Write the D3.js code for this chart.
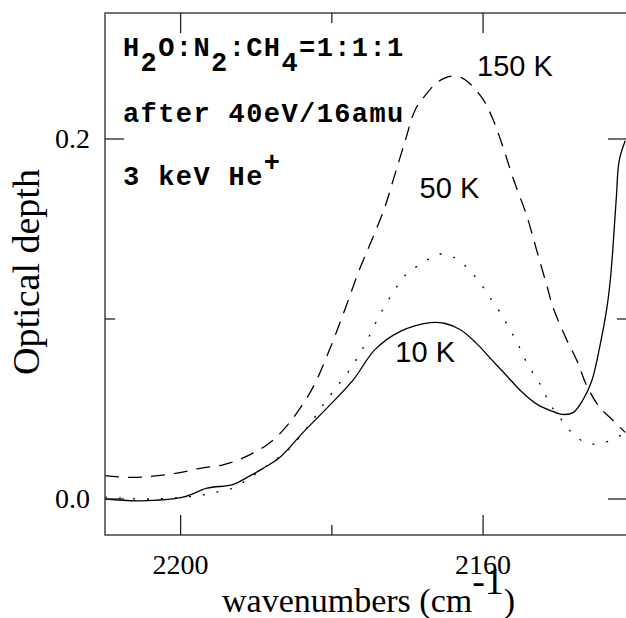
<!DOCTYPE html>
<html>
<head>
<meta charset="utf-8">
<script src="https://cdn.jsdelivr.net/npm/d3@7"></script>
<style>
  html, body { margin: 0; padding: 0; background: #fff; }
</style>
</head>
<body>
<div id="chart"></div>
<script>
const width = 626;
const height = 618;
const margin = { top: 13, right: 0, bottom: 83, left: 105 };

// wavenumber (cm-1) and optical depth
const wn10 = [2210, 2205.4, 2199.7, 2196.5, 2193.1, 2191.2, 2189.1, 2186.9, 2183.8, 2180.3, 2177.2, 2174.3, 2171.0, 2167.0, 2165.0, 2163.0, 2161.0, 2159.0, 2157.0, 2155.0, 2153.0, 2151.0, 2149.5, 2148.1, 2146.8, 2145.6, 2144.6, 2143.6, 2143.1, 2142.4, 2142.0, 2141.2];
const od10 = [0.000, -0.001, 0.001, 0.006, 0.008, 0.012, 0.017, 0.023, 0.037, 0.052, 0.066, 0.083, 0.093, 0.098, 0.0975, 0.094, 0.087, 0.078, 0.069, 0.060, 0.053, 0.049, 0.047, 0.048, 0.055, 0.066, 0.084, 0.107, 0.125, 0.166, 0.188, 0.199];

const wn50 = [2210, 2204.1, 2197.4, 2195.1, 2193.1, 2191.1, 2189.1, 2185.6, 2183.8, 2182.5, 2181.2, 2179.6, 2177.6, 2175.6, 2173.7, 2171.4, 2169.9, 2168.0, 2166.0, 2163.7, 2162.0, 2160.4, 2159.1, 2157.8, 2156.7, 2155.5, 2154.5, 2153.4, 2152.2, 2151.2, 2149.8, 2148.3, 2146.3, 2144.3, 2142.4, 2141.2];
const od50 = [0.001, 0.000, 0.002, 0.004, 0.006, 0.011, 0.017, 0.028, 0.037, 0.044, 0.052, 0.061, 0.072, 0.086, 0.102, 0.118, 0.126, 0.131, 0.136, 0.134, 0.128, 0.120, 0.112, 0.104, 0.096, 0.087, 0.078, 0.070, 0.062, 0.053, 0.045, 0.037, 0.031, 0.031, 0.034, 0.037];

const wn150 = [2210, 2206.3, 2201.0, 2197.4, 2194.4, 2192.2, 2188.6, 2186.5, 2184.6, 2182.5, 2180.3, 2178.3, 2176.3, 2174.7, 2173.0, 2171.9, 2170.3, 2169.0, 2167.7, 2166.2, 2165.0, 2164.0, 2162.8, 2161.8, 2160.0, 2158.7, 2157.4, 2156.1, 2154.2, 2152.9, 2151.4, 2150.8, 2148.9, 2147.6, 2146.3, 2144.6, 2142.9, 2141.2];
const od150 = [0.013, 0.012, 0.014, 0.017, 0.019, 0.022, 0.030, 0.038, 0.048, 0.062, 0.083, 0.105, 0.128, 0.144, 0.162, 0.177, 0.199, 0.216, 0.224, 0.231, 0.234, 0.235, 0.234, 0.231, 0.222, 0.211, 0.196, 0.179, 0.157, 0.138, 0.116, 0.107, 0.088, 0.077, 0.063, 0.051, 0.044, 0.037];

const xMajor = [2200, 2160];
const xMinor = [2180, 2140];
const yMajor = [0.0, 0.2];
const yMinor = [0.1];

const series = [
  { wn: wn150, od: od150, dash: "14,9", label: "150 K", lx: 2160.8, ly: 0.235 },
  { wn: wn50, od: od50, dash: "2,12", label: "50 K", lx: 2168.4, ly: 0.167 },
  { wn: wn10, od: od10, dash: null, label: "10 K", lx: 2171.6, ly: 0.076 }
];

const svg = d3.select("#chart")
  .append("svg")
  .attr("width", width)
  .attr("height", height);

const x = d3.scaleLinear()
  .domain([2210, 2141.1])
  .range([margin.left, width - margin.right]);

const y = d3.scaleLinear()
  .domain([-0.02, 0.27])
  .range([height - margin.bottom, margin.top]);

svg.append("clipPath")
  .attr("id", "plot")
  .append("rect")
  .attr("x", margin.left)
  .attr("y", margin.top)
  .attr("width", width - margin.left - margin.right)
  .attr("height", height - margin.top - margin.bottom);

const line = d3.line()
  .x(d => x(d[0]))
  .y(d => y(d[1]))
  .curve(d3.curveCatmullRom.alpha(0.5));

const curves = svg.append("g").attr("clip-path", "url(#plot)");
series.forEach(s => {
  curves.append("path")
    .datum(s.wn.map((w, i) => [w, s.od[i]]))
    .attr("d", line)
    .attr("fill", "none")
    .attr("stroke", "#000")
    .attr("stroke-width", 1.3)
    .attr("stroke-dasharray", s.dash);
});

// frame and ticks on all four sides
const x0 = margin.left, x1 = width - margin.right + 1;
const y0 = margin.top, y1 = height - margin.bottom;

svg.append("rect")
  .attr("x", x0)
  .attr("y", y0)
  .attr("width", x1 - x0)
  .attr("height", y1 - y0)
  .attr("fill", "none")
  .attr("stroke", "#444")
  .attr("stroke-width", 1.5);

const ticks = svg.append("g").attr("stroke", "#222").attr("stroke-width", 1.3);
[[xMajor, 20], [xMinor, 10]].forEach(([vals, len]) => {
  vals.forEach(v => {
    ticks.append("line").attr("x1", x(v)).attr("x2", x(v)).attr("y1", y1).attr("y2", y1 - len);
    ticks.append("line").attr("x1", x(v)).attr("x2", x(v)).attr("y1", y0).attr("y2", y0 + len);
  });
});
[[yMajor, 19], [yMinor, 10]].forEach(([vals, len]) => {
  vals.forEach(v => {
    ticks.append("line").attr("y1", y(v)).attr("y2", y(v)).attr("x1", x0).attr("x2", x0 + len);
    ticks.append("line").attr("y1", y(v)).attr("y2", y(v)).attr("x1", x1).attr("x2", x1 - len);
  });
});

const serif = "'Liberation Serif', 'Times New Roman', serif";

svg.append("g")
  .selectAll("text")
  .data(xMajor)
  .join("text")
  .attr("x", d => x(d))
  .attr("y", y1 + 39)
  .attr("text-anchor", "middle")
  .style("font-family", serif)
  .style("font-size", "28px")
  .text(d => d);

svg.append("g")
  .selectAll("text")
  .data(yMajor)
  .join("text")
  .attr("x", 90)
  .attr("y", d => y(d) + 9)
  .attr("text-anchor", "end")
  .style("font-family", serif)
  .style("font-size", "28px")
  .text(d => d.toFixed(1));

const xl = svg.append("text")
  .attr("x", 222)
  .attr("y", 612)
  .style("font-family", serif)
  .style("font-size", "34px");
xl.append("tspan").text("wavenumbers (cm");
xl.append("tspan").attr("dy", -18).style("font-size", "38px").text("-1");
xl.append("tspan").attr("dy", 18).text(")");

svg.append("text")
  .attr("transform", "translate(39,272) rotate(-90)")
  .attr("text-anchor", "middle")
  .style("font-family", serif)
  .style("font-size", "38px")
  .text("Optical depth");

// sample annotation
const mono = "'Liberation Mono', 'Courier New', monospace";
const note = svg.append("g")
  .style("font-family", mono)
  .style("font-weight", "bold")
  .style("font-size", "27px")
  .style("letter-spacing", "1.4px");

const t1 = note.append("text").attr("x", 123).attr("y", 56);
[["H", 0], ["2", 15], ["O:N", -15], ["2", 15], [":CH", -15], ["4", 15], ["=1:1:1", -15]]
  .forEach(([s, dy]) => t1.append("tspan").attr("dy", dy).text(s));

note.append("text").attr("x", 123).attr("y", 122).text("after 40eV/16amu");

const t3 = note.append("text").attr("x", 123).attr("y", 185);
t3.append("tspan").text("3 keV He");
t3.append("tspan").attr("dy", -14).text("+");

svg.append("g")
  .selectAll("text")
  .data(series)
  .join("text")
  .attr("x", d => x(d.lx))
  .attr("y", d => y(d.ly))
  .style("font-family", "'Liberation Sans', Arial, sans-serif")
  .style("font-size", "29px")
  .text(d => d.label);
</script>
</body>
</html>
